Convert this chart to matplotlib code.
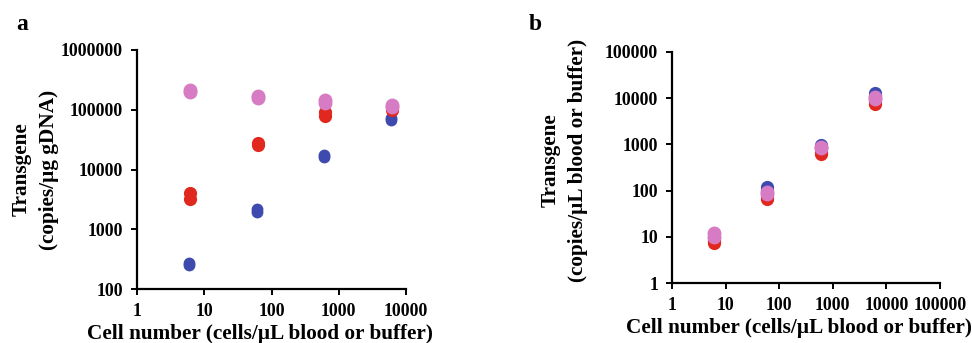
import numpy as np
import matplotlib
matplotlib.use("Agg")
import matplotlib.pyplot as plt
from matplotlib.ticker import FixedLocator, FixedFormatter, NullLocator

plt.rcParams["font.family"] = ["Liberation Serif", "DejaVu Serif"]
plt.rcParams["font.weight"] = "bold"

# ====== Data (two replicates per cell number) ======
# panel a: transgene copies per ug gDNA
a_x_blue = [6, 6, 60, 60, 600, 600, 6000, 6000]
a_x_other = [6.2, 6.2, 62, 62, 620, 620, 6200, 6200]
a_blue = [250, 270, 1950, 2150, 16500, 17500, 68000, 72000]
a_red = [3170, 4090, 26000, 28000, 80000, 92000, 100000, 110000]
a_pink = [195000, 215000, 158000, 168000, 132000, 144000, 112000, 122000]

# panel b: transgene copies per uL blood or buffer
b_x = [6, 6, 60, 60, 600, 600, 6000, 6000]
b_blue = [9, 9.5, 105, 120, 880, 960, 12000, 13000]
b_red = [7.5, 8.3, 66, 72, 610, 680, 7400, 8100]
b_pink = [10, 12, 84, 92, 830, 900, 9800, 10600]

a_xticks = [1, 10, 100, 1000, 10000]
a_yticks = [100, 1000, 10000, 100000, 1000000]
b_xticks = [1, 10, 100, 1000, 10000, 100000]
b_yticks = [1, 10, 100, 1000, 10000, 100000]

c_blue = "#3f4aae"
c_red = "#e0281e"
c_pink = "#d67bc4"

xlabel = "Cell number (cells/\u00b5L blood or buffer)"

fig = plt.figure(figsize=(9.72, 3.43), dpi=100)
W, H = 972.0, 343.0


def make_ax(left, top, right, bottom):
    return fig.add_axes([left / W, 1 - bottom / H, (right - left) / W, (bottom - top) / H])


def style(ax, xt, yt):
    ax.set_xscale("log")
    ax.set_yscale("log")
    ax.set_xlim(xt[0], xt[-1])
    ax.set_ylim(yt[0], yt[-1])
    ax.xaxis.set_major_locator(FixedLocator(xt))
    ax.xaxis.set_major_formatter(FixedFormatter([str(v) for v in xt]))
    ax.yaxis.set_major_locator(FixedLocator(yt))
    ax.yaxis.set_major_formatter(FixedFormatter([str(v) for v in yt]))
    ax.xaxis.set_minor_locator(NullLocator())
    ax.yaxis.set_minor_locator(NullLocator())
    for s in ["top", "right"]:
        ax.spines[s].set_visible(False)
    for s in ["left", "bottom"]:
        ax.spines[s].set_linewidth(1.6)
    ax.tick_params(direction="out", length=4, width=1.4, labelsize=12.8, pad=6)
    for lbl in ax.get_xticklabels() + ax.get_yticklabels():
        lbl.set_fontweight("bold")
    ax.patch.set_alpha(0)


# ====== Panel a ======
ax1 = make_ax(137, 50, 406, 289)
ax1.plot(a_x_blue, a_blue, "o", color=c_blue, ms=8.5, mec="none", clip_on=False)
ax1.plot(a_x_other, a_red, "o", color=c_red, ms=9.5, mec="none", clip_on=False)
ax1.plot(a_x_other, a_pink, "o", color=c_pink, ms=10, mec="none", clip_on=False)
style(ax1, a_xticks, a_yticks)
ax1.set_xlabel(xlabel, fontsize=15.3, fontweight="bold", labelpad=3)
ax1.xaxis.label.set_x(0.457)
ax1.set_ylabel("Transgene\n(copies/\u00b5g gDNA)", fontsize=15.3, fontweight="bold",
               labelpad=1.5, linespacing=1.45)
fig.text(22 / W, 1 - 25 / H, "a", fontsize=17, fontweight="bold", ha="center", va="center")

# ====== Panel b ======
ax2 = make_ax(672, 52, 940, 283)
ax2.plot(b_x, b_blue, "o", color=c_blue, ms=9.5, mec="none", clip_on=False)
ax2.plot(b_x, b_red, "o", color=c_red, ms=9.5, mec="none", clip_on=False)
ax2.plot(b_x, b_pink, "o", color=c_pink, ms=10, mec="none", clip_on=False)
style(ax2, b_xticks, b_yticks)
ax2.set_xlabel(xlabel, fontsize=15.3, fontweight="bold", labelpad=3)
ax2.xaxis.label.set_x(0.474)
ax2.set_ylabel("Transgene\n(copies/\u00b5L blood or buffer)", fontsize=15.3, fontweight="bold",
               labelpad=12, linespacing=1.5)
ax2.yaxis.label.set_y(0.532)
fig.text(535 / W, 1 - 25 / H, "b", fontsize=17, fontweight="bold", ha="center", va="center")

fig.savefig("out.png", dpi=100)
